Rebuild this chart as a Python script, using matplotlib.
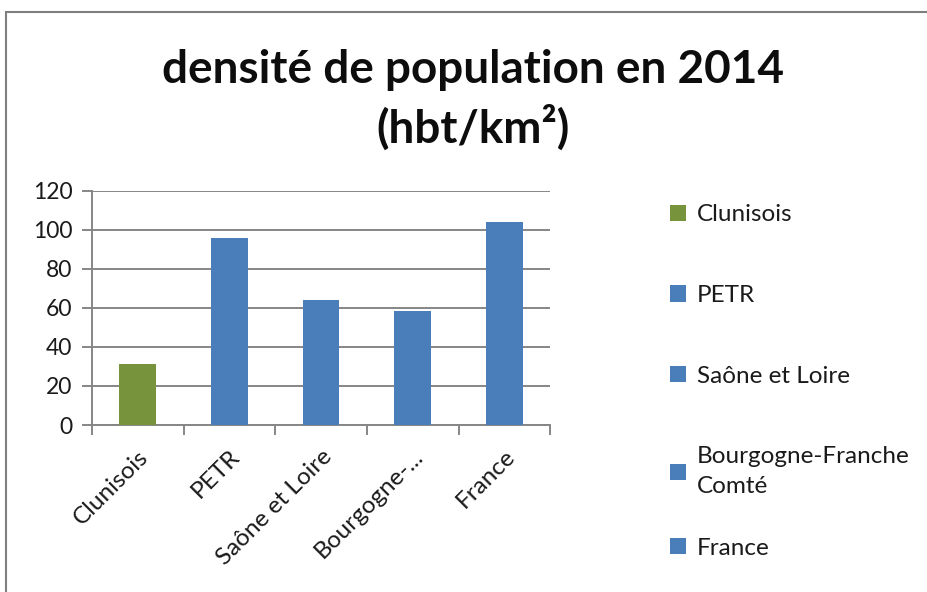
import numpy as np
import matplotlib.pyplot as plt
from matplotlib.patches import Rectangle

# data
categories = ['Clunisois', 'PETR', 'Saône et Loire', 'Bourgogne-Franche Comté', 'France']
tick_labels = ['Clunisois', 'PETR', 'Saône et Loire', 'Bourgogne-...', 'France']
legend_labels = ['Clunisois', 'PETR', 'Saône et Loire', 'Bourgogne-Franche\nComté', 'France']
density = [31, 95.6, 64.2, 58.3, 103.8]
bar_colors = ['#77933C', '#4A7EBB', '#4A7EBB', '#4A7EBB', '#4A7EBB']

plt.rcParams['font.family'] = ['Lato', 'DejaVu Sans']

fig = plt.figure(figsize=(9.28, 5.92), dpi=100)
ax = fig.add_axes([0.099, 0.282, 0.494, 0.396])

x = np.arange(len(categories))
bars = ax.bar(x, density, width=0.4, color=bar_colors, zorder=3)

ax.set_xlim(-0.5, len(categories) - 0.5)
ax.set_ylim(0, 120)
ax.set_yticks(np.arange(0, 121, 20))
ax.yaxis.grid(True, color='#868686', lw=1.4, zorder=0)

# category ticks between bars
ax.set_xticks(np.arange(-0.5, len(categories), 1.0))
ax.set_xticklabels([])
ax.set_xticks(x, minor=True)
ax.set_xticklabels(tick_labels, minor=True, rotation=45, ha='right',
                   rotation_mode='anchor', fontsize=17.5, color='#1a1a1a')
ax.tick_params(axis='x', which='minor', length=0, pad=15)
ax.tick_params(axis='x', which='major', length=7, width=1.4, color='#868686')
ax.tick_params(axis='y', length=7, width=1.4, color='#868686', labelsize=16.5,
               labelcolor='#1a1a1a', pad=7)

for side in ['top', 'right']:
    ax.spines[side].set_visible(False)
for side in ['left', 'bottom']:
    ax.spines[side].set_color('#868686')
    ax.spines[side].set_linewidth(1.4)

fig.suptitle('densité de population en 2014\n(hbt/km²)', x=0.51, y=0.918,
             fontsize=33, fontweight='bold', color='#0d0d0d', linespacing=1.35)

# legend: first four entries, then France (Excel packs the last one closer)
leg_kw = dict(frameon=False, fontsize=17.5, borderaxespad=0, handlelength=0.65,
              handleheight=0.65, handletextpad=0.45)
leg1 = fig.legend(bars[:4], legend_labels[:4], loc='upper left',
                  bbox_to_anchor=(0.712, 0.671), labelspacing=2.45, **leg_kw)
leg2 = fig.legend(bars[4:], legend_labels[4:], loc='center left',
                  bbox_to_anchor=(0.712, 0.074), **leg_kw)
for leg in (leg1, leg2):
    for t in leg.get_texts():
        t.set_color('#1a1a1a')
        t.set_linespacing(1.55)

# outer chart border
fig.patches.append(Rectangle((0.006, -0.05), 1.1, 1.03, transform=fig.transFigure,
                             fill=False, edgecolor='#7f7f7f', lw=1.5))

plt.savefig('out.png', dpi=100)
